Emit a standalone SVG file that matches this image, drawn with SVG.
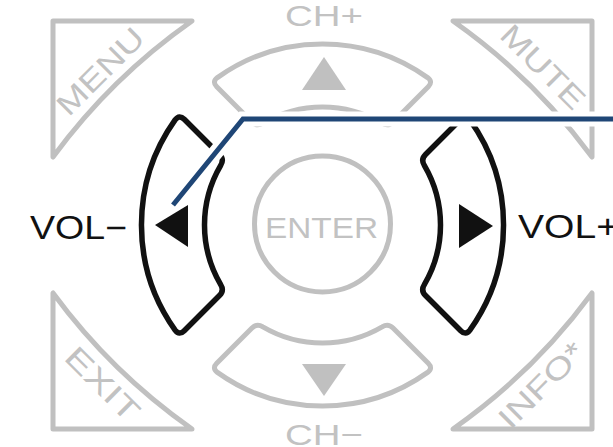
<svg xmlns="http://www.w3.org/2000/svg" width="613" height="447" viewBox="0 0 613 447">
<style>
.g{fill:none;stroke:#c0c0c0;stroke-width:5;stroke-linejoin:round}
.k{fill:none;stroke:#111;stroke-width:5.5;stroke-linejoin:round}
.gf{fill:#c0c0c0}
.kf{fill:#111}
.gl{font-family:"Liberation Sans",Arial,sans-serif;fill:#c2c2c2;font-size:30px;text-anchor:middle}
.kl{font-family:"Liberation Sans",Arial,sans-serif;fill:#111;font-size:33px}
</style>
<defs>
<path id="seg" d="M-105.75,-138.25 Q-110.7,-143.2 -105.1,-147.4 A181 181 0 0 1 105.1,-147.4 Q110.7,-143.2 105.75,-138.25 L70.54,-103.04 Q65.59,-98.09 59.65,-101.81 A118 118 0 0 0 -59.65,-101.81 Q-65.59,-98.09 -70.54,-103.04 Z"/>
<path id="tri" d="M53,157 L53,21 L192,21 A600 600 0 0 0 53,157 Z"/>
</defs>
<rect width="613" height="447" fill="#fff"/>

<g id="menu">
<use href="#tri" class="g"/>
<text class="gl" transform="translate(107.7,78.7) rotate(-45)" textLength="110" lengthAdjust="spacingAndGlyphs">MENU</text>
</g>
<g id="mute">
<use href="#tri" class="g" transform="matrix(-1,0,0,1,645,0)"/>
<text class="gl" transform="translate(535.8,74.2) rotate(45)" textLength="106" lengthAdjust="spacingAndGlyphs">MUTE</text>
</g>
<g id="exit">
<use href="#tri" class="g" transform="matrix(1,0,0,-1,0,450)"/>
<text class="gl" transform="translate(95.2,391.3) rotate(45)" textLength="92" lengthAdjust="spacingAndGlyphs">EXIT</text>
</g>
<g id="info">
<use href="#tri" class="g" transform="matrix(-1,0,0,-1,645,450)"/>
<text class="gl" transform="translate(548.8,392.3) rotate(-45)" textLength="108" lengthAdjust="spacingAndGlyphs">INFO*</text>
</g>

<g id="ch-plus">
<use href="#seg" class="g" transform="translate(322.5,225)"/>
<polygon class="gf" points="324,57 302,90 346,90"/>
<text class="gl" x="324" y="26" font-size="28" textLength="78" lengthAdjust="spacingAndGlyphs">CH+</text>
</g>
<g id="ch-minus">
<use href="#seg" class="g" transform="translate(322.5,225) rotate(180)"/>
<polygon class="gf" points="302,364 346,364 324,396"/>
<text class="gl" x="324" y="445" font-size="28" textLength="78" lengthAdjust="spacingAndGlyphs">CH−</text>
</g>
<g id="enter">
<circle cx="322.5" cy="224" r="68" class="g"/>
<text class="gl" x="321.5" y="238" font-size="32" textLength="113" lengthAdjust="spacingAndGlyphs">ENTER</text>
</g>
<g id="vol-minus">
<use href="#seg" class="k" transform="translate(322.5,225) rotate(-90)"/>
<polygon class="kf" points="155,225 188,205 188,247"/>
<text class="kl" x="30" y="239" textLength="97" lengthAdjust="spacingAndGlyphs">VOL−</text>
</g>
<g id="vol-plus">
<use href="#seg" class="k" transform="translate(322.5,225) rotate(90)"/>
<polygon class="kf" points="459,204 459,248 493,226"/>
<text class="kl" x="518" y="238" textLength="101" lengthAdjust="spacingAndGlyphs">VOL+</text>
</g>

<g id="connectors">
<path d="M175.5,201.9 L243,119 L620,119" fill="none" stroke="#fff" stroke-width="15"/>
<path d="M173,205 L243,119 L620,119" fill="none" stroke="#1f4676" stroke-width="5"/>
</g>
</svg>
